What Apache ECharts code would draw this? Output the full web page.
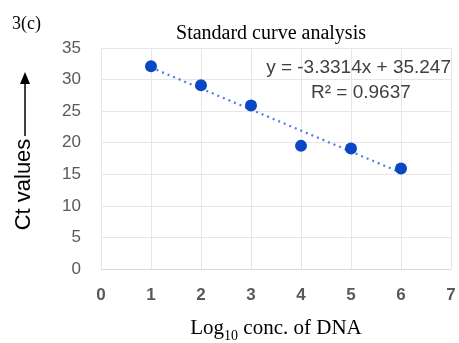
<!DOCTYPE html>
<html>
<head>
<meta charset="utf-8">
<script src="https://cdn.jsdelivr.net/npm/echarts@6/dist/echarts.min.js"></script>
<style>
  html, body { margin: 0; padding: 0; background: #fff; }
  #chart { width: 459px; height: 343px; }
</style>
</head>
<body>
<div id="chart"></div>
<script>
// log10 concentration vs Ct values
var logConc = [1, 2, 3, 4, 5, 6];
var ctValues = [32.1, 29.1, 25.9, 19.5, 19.1, 15.9];
var xTicks = [0, 1, 2, 3, 4, 5, 6, 7];
var yTicks = [0, 5, 10, 15, 20, 25, 30, 35];
// trendline as printed on the chart
var slope = -3.3314;
var intercept = 35.247;
var rSquared = 0.9637;

var points = logConc.map(function (x, i) { return [x, ctValues[i]]; });
var trendEnds = [logConc[0], logConc[logConc.length - 1]];
var trend = trendEnds.map(function (x) { return [x, slope * x + intercept]; });

var chart = echarts.init(document.getElementById('chart'));

var serif = '"Liberation Serif", "Times New Roman", serif';
var sans = '"Liberation Sans", Arial, sans-serif';

chart.setOption({
    animation: false,
    title: [{
        text: 'Standard curve analysis',
        left: 266, top: 19, textAlign: 'center',
        textStyle: {fontFamily: serif, fontSize: 20, fontWeight: 'normal', color: '#000'}
    }, {
        text: '3(c)',
        left: 7, top: 10,
        textStyle: {fontFamily: serif, fontSize: 18, fontWeight: 'normal', color: '#000'}
    }, {
        text: 'y = ' + slope + 'x + ' + intercept,
        right: 3, top: 53,
        textStyle: {fontFamily: sans, fontSize: 19, fontWeight: 'normal', color: '#404040'}
    }, {
        text: 'R\u00b2 = ' + rSquared,
        left: 306, top: 78,
        textStyle: {fontFamily: sans, fontSize: 19, fontWeight: 'normal', color: '#404040'}
    }],
    grid: {left: 101, right: 8, top: 48, bottom: 74, outerBoundsMode: 'none'},
    xAxis: {
        type: 'value',
        min: xTicks[0], max: xTicks[xTicks.length - 1], interval: 1,
        name: '{a|Log}{s|10}{a| conc. of DNA}',
        nameLocation: 'middle', nameGap: 46,
        nameTextStyle: {
            rich: {
                a: {fontFamily: serif, fontSize: 21, color: '#000', verticalAlign: 'bottom', lineHeight: 24},
                s: {fontFamily: serif, fontSize: 14, color: '#000', verticalAlign: 'bottom', lineHeight: 16, padding: [0, 0, -4, 0]}
            }
        },
        axisLine: {show: true, lineStyle: {color: '#d9d9d9'}},
        axisTick: {show: false},
        axisLabel: {fontFamily: sans, fontSize: 17, fontWeight: 'bold', color: '#595959', margin: 18},
        splitLine: {show: true, lineStyle: {color: '#e6e6e6'}}
    },
    yAxis: {
        type: 'value',
        min: yTicks[0], max: yTicks[yTicks.length - 1], interval: 5,
        name: 'Ct values',
        nameLocation: 'middle', nameGap: 66, nameRotate: 90,
        nameTextStyle: {fontFamily: sans, fontSize: 22, color: '#000', padding: [0, 0, 0, -52]},
        axisLine: {show: true, lineStyle: {color: '#e6e6e6'}},
        axisTick: {show: false},
        axisLabel: {fontFamily: sans, fontSize: 17, color: '#595959', margin: 20},
        splitLine: {show: true, lineStyle: {color: '#e6e6e6'}}
    },
    graphic: [{
        type: 'line',
        shape: {x1: 25, y1: 136, x2: 25, y2: 82},
        style: {stroke: '#000', lineWidth: 1.5}
    }, {
        type: 'polygon',
        shape: {points: [[25, 72], [20, 84], [30, 84]]},
        style: {fill: '#000'}
    }],
    series: [{
        type: 'line',
        data: trend,
        symbol: 'none',
        lineStyle: {color: '#4a7fe0', width: 2.2, type: [2, 4]},
        z: 1
    }, {
        type: 'scatter',
        data: points,
        symbolSize: 12,
        itemStyle: {color: '#0a47c4', opacity: 1},
        z: 2
    }]
});
</script>
</body>
</html>
